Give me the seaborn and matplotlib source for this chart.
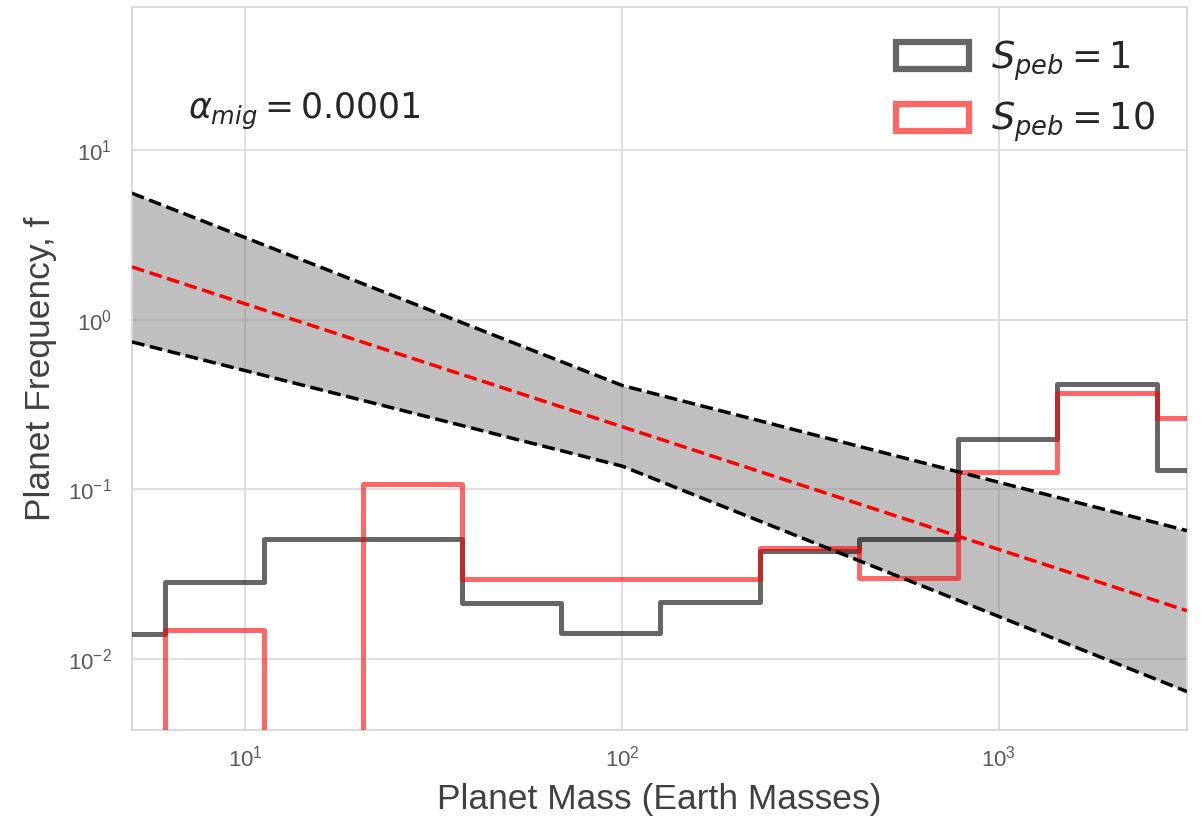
import numpy as np
import pandas as pd
import matplotlib
matplotlib.use("Agg")
import matplotlib.pyplot as plt
import seaborn as sns
from matplotlib.patches import Patch

# ---------------- data ----------------
bin_edges = [3.3, 6.1, 11.2, 20.5, 37.6, 69.0, 126.5, 232.0, 426.0, 781.0, 1432.0, 2630.0, 4820.0]
freq_s1 = [0.0140, 0.0284, 0.0508, 0.0508, 0.0213, 0.0142, 0.0217, 0.0433, 0.0508, 0.199, 0.420, 0.130]
freq_s10 = [0.0, 0.0147, 0.0, 0.107, 0.0297, 0.0297, 0.0297, 0.0453, 0.0300, 0.126, 0.372, 0.262]

fit_mass = [5.0, 100.0, 3162.0]
fit_median = [2.05, 0.234, 0.0192]
fit_upper = [5.58, 0.41, 0.057]
fit_lower = [0.74, 0.137, 0.0064]

legend_labels = [r"$S_{peb} = 1$", r"$S_{peb} = 10$"]
annotation = r"$\alpha_{mig} = 0.0001$"

# ---------------- style ----------------
sns.set_style("whitegrid")
plt.rcParams["font.family"] = ["Liberation Sans", "DejaVu Sans"]
plt.rcParams["mathtext.fontset"] = "dejavusans"

fig = plt.figure(figsize=(12.02, 8.16), dpi=100)
ax = fig.add_axes([0.1098, 0.1054, 0.8777, 0.886])

# band between the fits
ax.fill_between(fit_mass, fit_lower, fit_upper, color="gray", alpha=0.5, lw=0, zorder=1)

# histograms as step lines
hist1 = pd.DataFrame({"mass": bin_edges, "freq": freq_s1 + [freq_s1[-1]]})
hist10 = pd.DataFrame({"mass": bin_edges, "freq": freq_s10 + [freq_s10[-1]]})
sns.lineplot(data=hist1, x="mass", y="freq", ax=ax, color="k", alpha=0.6, lw=3.6,
             drawstyle="steps-post", estimator=None, sort=True, zorder=3)
sns.lineplot(data=hist10, x="mass", y="freq", ax=ax, color="r", alpha=0.6, lw=3.6,
             drawstyle="steps-post", estimator=None, sort=True, zorder=3)

# fit lines
fits = pd.DataFrame({"mass": fit_mass, "upper": fit_upper, "lower": fit_lower, "median": fit_median})
sns.lineplot(data=fits, x="mass", y="upper", ax=ax, color="k", lw=2.5, ls="--", estimator=None, zorder=4)
sns.lineplot(data=fits, x="mass", y="lower", ax=ax, color="k", lw=2.5, ls="--", estimator=None, zorder=4)
sns.lineplot(data=fits, x="mass", y="median", ax=ax, color="r", lw=2.5, ls="--", estimator=None, zorder=4)

ax.set_xscale("log")
ax.set_yscale("log")
ax.set_xlim(5, 10 ** 3.5)
ax.set_ylim(3.8e-3, 70)

ax.set_xlabel("Planet Mass (Earth Masses)", fontsize=25.5, color=".25", labelpad=8)
ax.set_ylabel("Planet Frequency, f", fontsize=25.5, color=".25", labelpad=8)
ax.tick_params(axis="y", labelsize=16, labelcolor=".35", pad=11)
ax.tick_params(axis="x", labelsize=16, labelcolor=".35", pad=8)
ax.grid(True, which="major", color=".85", lw=1.2)
ax.grid(False, which="minor")
for s in ax.spines.values():
    s.set_color(".85")
    s.set_linewidth(1.5)

ax.text(0.053, 0.855, annotation, transform=ax.transAxes, fontsize=25,
        ha="left", va="center", color=".15")

handles = [Patch(facecolor="none", edgecolor="k", alpha=0.6, lw=4.5),
           Patch(facecolor="none", edgecolor="r", alpha=0.6, lw=4.5)]
ax.legend(handles, legend_labels, loc="upper right", fontsize=26.5, frameon=False,
          handlelength=2.0, handleheight=0.75, labelspacing=0.45, borderaxespad=0.45,
          handletextpad=0.6)

fig.savefig("out.png", dpi=100)
